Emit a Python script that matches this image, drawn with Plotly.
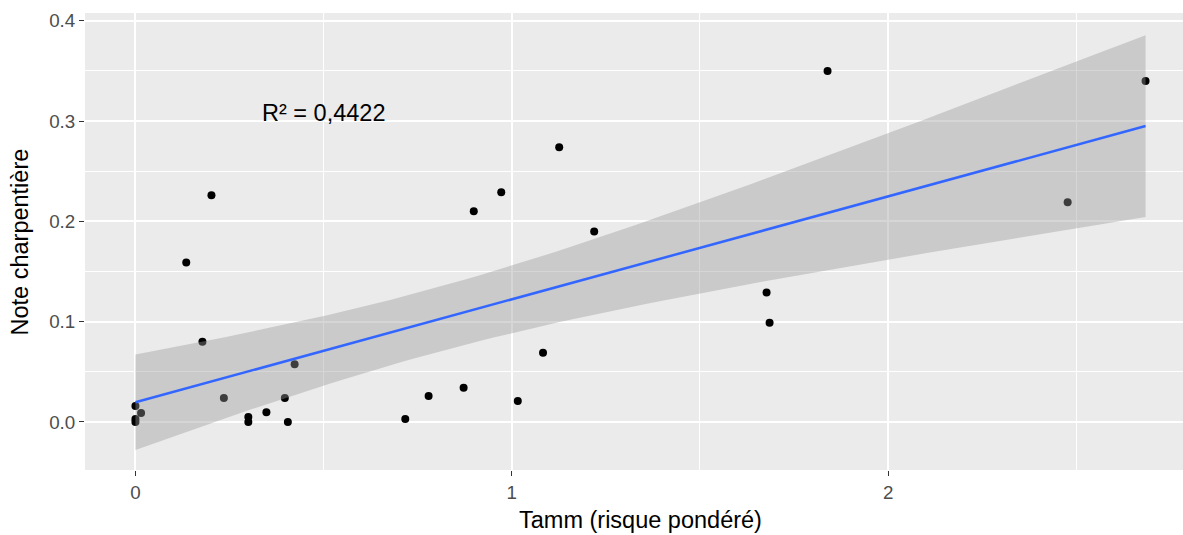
import numpy as np
import plotly.graph_objects as go

# Observations: weighted risk (Tamm) vs carpentry score
tamm = [0.0, 0.015, 0.0, 0.0, 0.135, 0.178, 0.202, 0.235, 0.30, 0.30,
        0.348, 0.397, 0.405, 0.423, 0.717, 0.779, 0.872, 0.899, 0.972, 1.016,
        1.083, 1.126, 1.219, 1.677, 1.685, 1.839, 2.477, 2.684]
note = [0.016, 0.009, 0.003, 0.0, 0.159, 0.080, 0.226, 0.024, 0.005, 0.0,
        0.0097, 0.024, 0.0, 0.0575, 0.003, 0.026, 0.034, 0.210, 0.229, 0.021,
        0.069, 0.274, 0.190, 0.129, 0.099, 0.350, 0.219, 0.340]
r2_label = "R² = 0,4422"
x_ticks = [0, 1, 2]
y_ticks = [0.0, 0.1, 0.2, 0.3, 0.4]

x = np.array(tamm)
y = np.array(note)
n = len(x)

# Ordinary least squares fit
xm, ym = x.mean(), y.mean()
sxx = ((x - xm) ** 2).sum()
slope = ((x - xm) * (y - ym)).sum() / sxx
icpt = ym - slope * xm
resid = y - (icpt + slope * x)
s = np.sqrt((resid ** 2).sum() / (n - 2))


def t_quantile(p, df):
    # Student t quantile by numeric integration of the density + interpolation
    from math import gamma, pi, sqrt
    c = gamma((df + 1) / 2) / (sqrt(df * pi) * gamma(df / 2))
    grid = np.linspace(0, 10, 200001)
    pdf = c * (1 + grid ** 2 / df) ** (-(df + 1) / 2)
    cdf = 0.5 + np.concatenate([[0], np.cumsum((pdf[1:] + pdf[:-1]) / 2 * np.diff(grid))])
    return float(np.interp(p, cdf, grid))


tq = t_quantile(0.975, n - 2)
xs = np.linspace(x.min(), x.max(), 80)
fit = icpt + slope * xs
se = s * np.sqrt(1 / n + (xs - xm) ** 2 / sxx)
lo, hi = fit - tq * se, fit + tq * se

FONT = "Liberation Sans, Arial"

fig = go.Figure()
fig.add_trace(go.Scatter(x=x, y=y, mode="markers",
                         marker=dict(color="black", size=8, line=dict(width=0)),
                         hoverinfo="skip", showlegend=False))
# confidence ribbon drawn over the points, as ggplot does
fig.add_trace(go.Scatter(x=np.concatenate([xs, xs[::-1]]),
                         y=np.concatenate([hi, lo[::-1]]),
                         fill="toself", fillcolor="rgba(153,153,153,0.4)",
                         line=dict(width=0), mode="lines",
                         hoverinfo="skip", showlegend=False))
fig.add_trace(go.Scatter(x=xs, y=fit, mode="lines",
                         line=dict(color="#3366FF", width=2.5),
                         hoverinfo="skip", showlegend=False))

axis_common = dict(
    showline=False, zeroline=False, ticks="outside", ticklen=5, tickwidth=1.2,
    tickcolor="#333333", gridcolor="white", gridwidth=2,
    tickfont=dict(family=FONT, size=18.8, color="#4D4D4D"),
)
fig.update_xaxes(range=[-0.134, 2.7835], tickvals=x_ticks,
                 ticktext=[str(v) for v in x_ticks],
                 minor=dict(dtick=0.5, tick0=0, showgrid=True, gridcolor="white",
                            gridwidth=1, ticks=""),
                 **axis_common)
fig.update_yaxes(range=[-0.0479, 0.4078], tickvals=y_ticks,
                 ticktext=[f"{v:.1f}" for v in y_ticks],
                 minor=dict(dtick=0.05, tick0=0.05, showgrid=True, gridcolor="white",
                            gridwidth=1, ticks=""),
                 **axis_common)

fig.add_annotation(x=0.5, y=0.308, text=r2_label, showarrow=False,
                   font=dict(family=FONT, size=23.5, color="black"))
fig.add_annotation(xref="paper", yref="paper", x=0.506, y=-0.109,
                   yanchor="middle", xanchor="center", text="Tamm (risque pondéré)",
                   showarrow=False,
                   font=dict(family=FONT, size=23.5, color="black"))
fig.add_annotation(xref="paper", yref="paper", x=-0.0592, y=0.5,
                   xanchor="center", yanchor="middle", textangle=-90,
                   text="Note charpentière", showarrow=False,
                   font=dict(family=FONT, size=23.5, color="black"))

fig.update_layout(
    width=1183, height=535,
    margin=dict(l=85, r=0, t=13, b=65),
    paper_bgcolor="white", plot_bgcolor="#EBEBEB",
    showlegend=False,
)

fig.write_html("out.html")
